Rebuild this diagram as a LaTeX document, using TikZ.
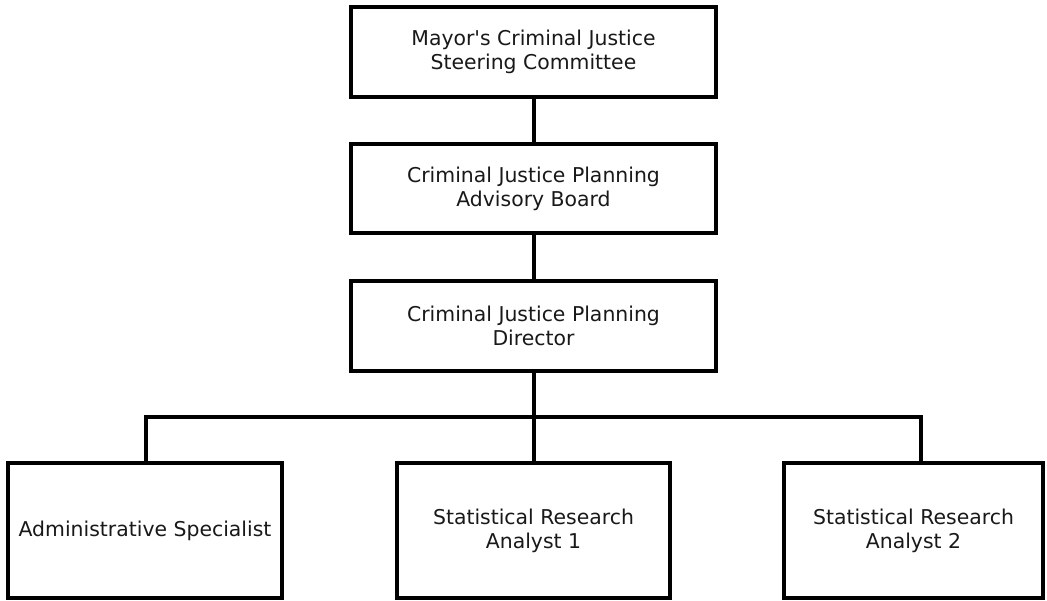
\documentclass[tikz,border=0pt]{standalone}
\usepackage{fontspec}
\newfontfamily\dvsans{DejaVu Sans}
\begin{document}
\begin{tikzpicture}[x=1pt,y=-1pt,
  box/.style={draw=black, line width=4pt, fill=white, align=center, inner sep=0pt,
    font=\dvsans\fontsize{20.4}{24}\selectfont, text=black!90},
  link/.style={line width=4pt, draw=black}]
\useasboundingbox (0,0) rectangle (1047,601);
\node[box, minimum width=365pt, minimum height=90pt] (msc) at (533.5,52) {Mayor's Criminal Justice\\Steering Committee};
\node[box, minimum width=365pt, minimum height=89pt] (cab) at (533.5,188.5) {Criminal Justice Planning\\Advisory Board};
\node[box, minimum width=365pt, minimum height=90pt] (dir) at (533.5,326) {Criminal Justice Planning\\Director};
\node[box, minimum width=274pt, minimum height=135pt] (adm) at (145,530.5) {Administrative Specialist};
\node[box, minimum width=273pt, minimum height=135pt] (an1) at (533.5,530.5) {Statistical Research\\Analyst 1};
\node[box, minimum width=259pt, minimum height=135pt] (an2) at (913.5,530.5) {Statistical Research\\Analyst 2};
\coordinate (busL) at (146,417);
\coordinate (busM) at (533.5,417);
\coordinate (busR) at (921,417);
\draw[link] (msc.south) -- (cab.north);
\draw[link] (cab.south) -- (dir.north);
\draw[link] (dir.south) -- (an1.north);
\draw[link] (busL |- adm.north) -- (busL) -- (busR) -- (busR |- an2.north);
\end{tikzpicture}
\end{document}
